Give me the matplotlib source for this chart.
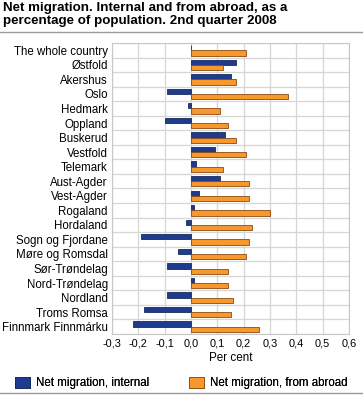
import matplotlib
matplotlib.use('Agg')
import matplotlib.pyplot as plt
import numpy as np
from matplotlib.patches import Patch
from matplotlib.lines import Line2D

regions = ['The whole country', 'Østfold', 'Akershus', 'Oslo', 'Hedmark', 'Oppland',
           'Buskerud', 'Vestfold', 'Telemark', 'Aust-Agder', 'Vest-Agder', 'Rogaland',
           'Hordaland', 'Sogn og Fjordane', 'Møre og Romsdal', 'Sør-Trøndelag',
           'Nord-Trøndelag', 'Nordland', 'Troms Romsa', 'Finnmark Finnmárku']
internal = [0.0, 0.17, 0.15, -0.09, -0.01, -0.10, 0.13, 0.09, 0.02, 0.11,
            0.03, 0.01, -0.02, -0.19, -0.05, -0.09, 0.01, -0.09, -0.18, -0.22]
abroad = [0.21, 0.12, 0.17, 0.37, 0.11, 0.14, 0.17, 0.21, 0.12, 0.22,
          0.22, 0.30, 0.23, 0.22, 0.21, 0.14, 0.14, 0.16, 0.15, 0.26]
xticks = [-0.3, -0.2, -0.1, 0.0, 0.1, 0.2, 0.3, 0.4, 0.5, 0.6]
series = ['Net migration, internal', 'Net migration, from abroad']

BLUE = '#1f3b8f'
ORANGE = '#f7982c'
BLUE_EDGE = '#1a2a5a'
ORANGE_EDGE = '#8a4a10'

plt.rcParams['font.family'] = ['Liberation Sans', 'DejaVu Sans']

fig = plt.figure(figsize=(3.63, 3.97), dpi=100)
ax = fig.add_axes([112 / 363, 63 / 397, 237 / 363, 291 / 397])

y = np.arange(len(regions))
h = 0.36
ax.barh(y - h / 2, internal, height=h, color=BLUE, edgecolor=BLUE_EDGE, linewidth=0.6, zorder=3)
ax.barh(y + h / 2, abroad, height=h, color=ORANGE, edgecolor=ORANGE_EDGE, linewidth=0.6, zorder=3)

ax.set_ylim(len(regions) - 0.5, -0.5)
ax.set_xlim(-0.3, 0.6)
ax.set_yticks(y)
ax.set_yticklabels(regions, fontsize=8.3)
ax.set_xticks(xticks)
ax.set_xticklabels([f'{t:.1f}'.replace('.', ',') for t in xticks], fontsize=7.9)
ax.tick_params(length=0, pad=3)
ax.set_yticks(np.arange(len(regions) + 1) - 0.5, minor=True)
ax.tick_params(which='minor', length=0)
ax.grid(True, which='minor', axis='y', color='#d6d6d6', linewidth=0.9, zorder=0)
ax.grid(True, which='major', axis='x', color='#d6d6d6', linewidth=0.9, zorder=0)
for s in ax.spines.values():
    s.set_color('#c8c8c8')
ax.set_xlabel('Per cent', fontsize=8.4, labelpad=3)

fig.text(3 / 363, 1 - 2.5 / 397, 'Net migration. Internal and from abroad, as a\npercentage of population. 2nd quarter 2008',
         fontsize=9.6, fontweight='bold', va='top', ha='left', linespacing=1.05)
fig.add_artist(Line2D([0, 1], [1 - 32 / 397, 1 - 32 / 397], color='#999999', linewidth=1))
fig.add_artist(Line2D([0, 1], [1 - 393 / 397, 1 - 393 / 397], color='#999999', linewidth=1))

handles = [Patch(facecolor=BLUE, edgecolor=BLUE_EDGE, linewidth=0.6),
           Patch(facecolor=ORANGE, edgecolor=ORANGE_EDGE, linewidth=0.6)]
for hnd, lab, x0 in zip(handles, series, [15, 189]):
    leg = fig.legend([hnd], [lab], loc='center left', bbox_to_anchor=(x0 / 363, 1 - 383 / 397),
                     frameon=False, fontsize=8.3, handlelength=1.3, handleheight=1.05,
                     handletextpad=0.55, borderpad=0, borderaxespad=0)
    fig.add_artist(leg)

fig.savefig('out.png', dpi=100)
